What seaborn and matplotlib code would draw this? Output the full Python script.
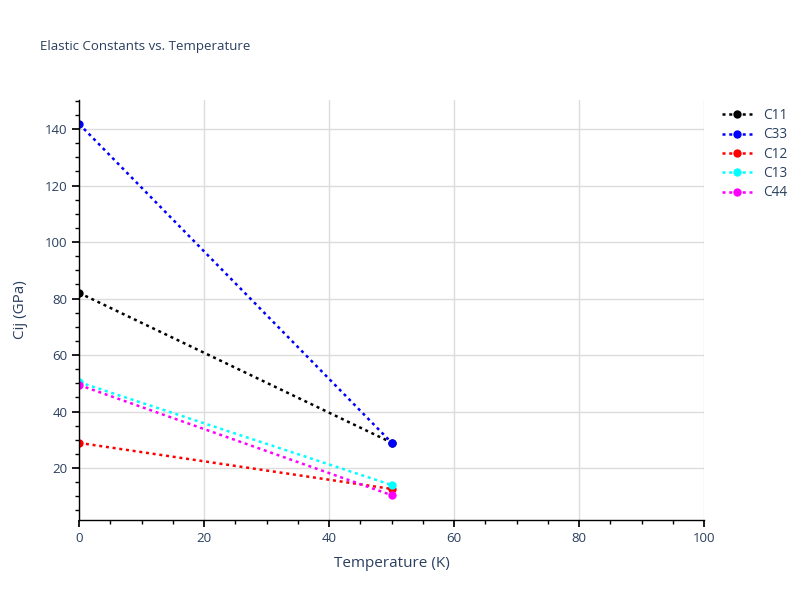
import numpy as np
import pandas as pd
import matplotlib.pyplot as plt
import seaborn as sns
from matplotlib.ticker import MultipleLocator

# data
temperature = [0, 50]
c11 = [82.0, 29.0]
c33 = [141.8, 29.0]
c12 = [28.9, 12.6]
c13 = [50.4, 14.0]
c44 = [49.4, 10.4]

names = ["C11", "C33", "C12", "C13", "C44"]
colors = ["black", "blue", "red", "cyan", "magenta"]

df = pd.DataFrame({"Temperature": temperature * 5,
                   "Cij": c11 + c33 + c12 + c13 + c44,
                   "name": [n for n in names for _ in temperature]})

sns.set_theme(style="white")
plt.rcParams['font.family'] = ['Open Sans', 'DejaVu Sans']
text_col = "#2a3f5f"

fig = plt.figure(figsize=(8, 6), dpi=100)
ax = fig.add_axes([0.099, 0.1333, 0.781, 0.7])

sns.lineplot(data=df, x="Temperature", y="Cij", hue="name", hue_order=names,
             palette=colors, marker="o", markersize=6, markeredgewidth=0,
             linestyle=(0, (1.2, 1.5)), linewidth=1.8, ax=ax)

ax.set_xlim(0, 100)
ax.set_ylim(1.6, 150.3)
ax.xaxis.set_major_locator(MultipleLocator(20))
ax.xaxis.set_minor_locator(MultipleLocator(5))
ax.yaxis.set_major_locator(MultipleLocator(20))
ax.yaxis.set_minor_locator(MultipleLocator(5))
ax.grid(True, which="major", color="#dcdcdc", linewidth=1)
ax.set_axisbelow(True)
for s in ["top", "right"]:
    ax.spines[s].set_visible(False)
for s in ["left", "bottom"]:
    ax.spines[s].set_color("black")
    ax.spines[s].set_linewidth(1)
ax.tick_params(which="major", direction="out", length=5, color="black",
               labelsize=9.5, labelcolor=text_col, left=True, bottom=True)
ax.tick_params(which="minor", direction="out", length=3, color="black",
               left=True, bottom=True)

ax.set_xlabel("Temperature (K)", fontsize=11, color=text_col, labelpad=8)
ax.set_ylabel("Cij (GPa)", fontsize=11, color=text_col, labelpad=12)
fig.text(0.05, 0.923, "Elastic Constants vs. Temperature", fontsize=9.5,
         color=text_col, va="center")

leg = ax.legend(loc="upper left", bbox_to_anchor=(1.01, 1.01), frameon=False,
                fontsize=9.8, handlelength=2.2, labelspacing=0.32)
for t in leg.get_texts():
    t.set_color(text_col)

fig.savefig("out.png", dpi=100)
